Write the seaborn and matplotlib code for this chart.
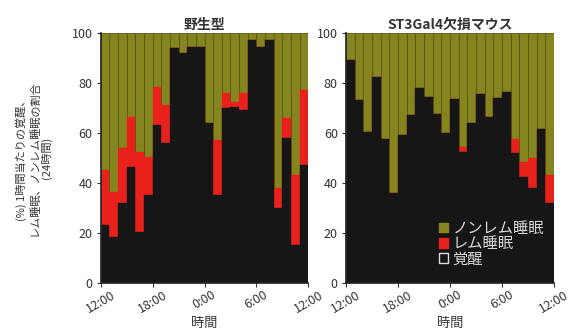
import numpy as np
import pandas as pd
import seaborn as sns
import matplotlib.pyplot as plt
from matplotlib.patches import Patch

# +----------- Dados (leitura do gráfico) -----------
hours = list(range(24))
tick_labels = ["12:00", "18:00", "0:00", "6:00", "12:00"]
titles = ["野生型", "ST3Gal4欠損マウス"]
legend_labels = ["ノンレム睡眠", "レム睡眠", "覚醒"]

wt_wake = [23, 18.5, 32, 46.5, 20.5, 35, 63, 56, 94, 92, 94.5, 94.5,
           64, 35, 70, 70.5, 69, 97, 94.5, 97, 30, 58, 15, 47]
wt_rem = [22, 18, 22, 20, 32, 15.5, 15.5, 15, 0, 0, 0, 0,
          0, 22, 6, 2, 7, 0, 0, 0, 8, 8, 28, 30]

ko_wake = [89, 73, 60.5, 82.5, 57.5, 36, 59, 67, 78, 74.5, 67.5, 60,
           73.5, 52.5, 64, 75.5, 66.5, 74, 76.5, 52, 42.5, 38, 61.5, 32]
ko_rem = [0, 0, 0, 0, 0, 0, 0, 0, 0, 0, 0, 0,
          0, 2, 0, 0, 0, 0, 0, 5.5, 6, 12, 0, 11]

olive = "#85851f"
olive_edge = "#58580f"
red = "#e8211d"
black = "#161616"

sns.set_theme(style="ticks")
plt.rcParams['font.family'] = ['Noto Sans CJK JP', 'DejaVu Sans']

fig = plt.figure(figsize=(5.73, 3.32), dpi=100)
ax1 = fig.add_axes([0.176, 0.148, 0.362, 0.753])
ax2 = fig.add_axes([0.604, 0.148, 0.363, 0.753])

for ax, wake, rem, title in [(ax1, wt_wake, wt_rem, titles[0]),
                             (ax2, ko_wake, ko_rem, titles[1])]:
    df = pd.DataFrame({"hour": hours, "wake": wake, "rem": rem})
    df["nrem"] = 100 - df["wake"] - df["rem"]
    df["wake_rem"] = df["wake"] + df["rem"]
    df["total"] = df["wake_rem"] + df["nrem"]

    # barras sobrepostas = empilhadas
    sns.barplot(data=df, x="hour", y="total", color=olive, saturation=1,
                width=1, edgecolor=olive_edge, linewidth=0.6, errorbar=None, ax=ax)
    sns.barplot(data=df, x="hour", y="wake_rem", color=red, saturation=1,
                width=1, edgecolor=red, linewidth=0.3, errorbar=None, ax=ax)
    sns.barplot(data=df, x="hour", y="wake", color=black, saturation=1,
                width=1, edgecolor=black, linewidth=0.3, errorbar=None, ax=ax)

    ax.set_xlim(-0.5, 23.5)
    ax.set_ylim(0, 100)
    ax.set_xticks([-0.5, 5.5, 11.5, 17.5, 23.5])
    ax.set_xticklabels(tick_labels, rotation=30, ha="center")
    ax.set_yticks([0, 20, 40, 60, 80, 100])
    ax.tick_params(labelsize=9, colors="#333333", length=3, width=0.8)
    ax.tick_params(axis="y", pad=3)
    ax.tick_params(axis="x", pad=1)
    ax.set_xlabel("時間", fontsize=9.5, color="#333333", labelpad=1)
    ax.set_ylabel("")
    ax.set_title(title, fontsize=10, fontweight="bold", color="#333333", pad=3)
    sns.despine(ax=ax)

ax1.set_ylabel("(%) 1時間当たりの覚醒、\nレム睡眠、ノンレム睡眠の割合\n(24時間)",
               fontsize=8, color="#333333", linespacing=1.2, labelpad=14)

handles = [Patch(facecolor=olive, edgecolor=olive),
           Patch(facecolor=red, edgecolor=red),
           Patch(facecolor="none", edgecolor="#dddddd", linewidth=1)]
leg = ax2.legend(handles, legend_labels, loc="lower left", bbox_to_anchor=(0.41, 0.03),
                 frameon=False, fontsize=11, handlelength=0.6, handleheight=0.6,
                 handletextpad=0.3, labelspacing=-0.1, borderpad=0)
for t in leg.get_texts():
    t.set_color("#d8d8d8")

fig.savefig("out.png", dpi=100)
